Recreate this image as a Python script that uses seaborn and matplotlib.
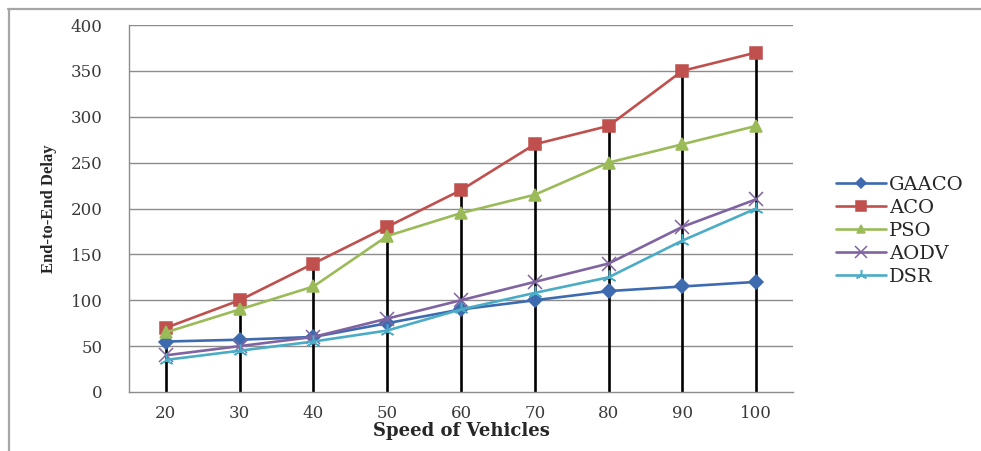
import matplotlib
matplotlib.use("Agg")
import matplotlib.pyplot as plt
from matplotlib.lines import Line2D
import numpy as np
import pandas as pd
import seaborn as sns

# Vehicle speeds on the x axis
speeds = ["20", "30", "40", "50", "60", "70", "80", "90", "100"]

# End-to-end delay for each routing protocol
gaaco = [55, 57, 60, 75, 90, 100, 110, 115, 120]
aco = [70, 100, 140, 180, 220, 270, 290, 350, 370]
pso = [65, 90, 115, 170, 195, 215, 250, 270, 290]
aodv = [40, 50, 60, 80, 100, 120, 140, 180, 210]
dsr = [35, 45, 55, 67, 90, 108, 125, 165, 200]

protocols = ["GAACO", "ACO", "PSO", "AODV", "DSR"]
series = [gaaco, aco, pso, aodv, dsr]

colors = {
    "GAACO": "#3E6BB0",
    "ACO": "#C0504D",
    "PSO": "#9BBB59",
    "AODV": "#8064A2",
    "DSR": "#4BACC6",
}
markers = {
    "GAACO": "D",
    "ACO": "s",
    "PSO": "^",
    "AODV": "x",
    "DSR": (3, 2, 0),
}
msizes = {"GAACO": 7, "ACO": 9, "PSO": 8, "AODV": 10, "DSR": 10}

rows = []
for name, vals in zip(protocols, series):
    for i, v in enumerate(vals):
        rows.append({"pos": i, "speed": speeds[i], "delay": v, "protocol": name})
df = pd.DataFrame(rows)

sns.set_style("white")
plt.rcParams["font.family"] = ["DejaVu Serif"]

fig = plt.figure(figsize=(9.81, 4.51), dpi=100)
ax = fig.add_axes([129 / 981, 1 - 392 / 451, (793 - 129) / 981, (392 - 25) / 451])

# Horizontal gridlines
for yv in range(50, 401, 50):
    ax.axhline(yv, color="#8C8C8C", lw=1.0, zorder=0)

# High-low drop lines from the axis up to the highest series value
tops = df.groupby("pos")["delay"].max()
ax.vlines(tops.index, 0, tops.values, color="black", lw=1.9, zorder=1)

for name in protocols:
    sub = df[df["protocol"] == name]
    sns.lineplot(
        data=sub, x="pos", y="delay", ax=ax,
        color=colors[name], lw=1.9, label=name,
        marker=markers[name], markersize=msizes[name],
        markeredgecolor=colors[name],
        markerfacecolor=colors[name],
        markeredgewidth=1.1,
        zorder=3,
    )

ax.set_xlim(-0.5, len(speeds) - 0.5)
ax.set_ylim(0, 400)
ax.set_xticks(range(len(speeds)))
ax.set_xticklabels(speeds)
ax.set_yticks(range(0, 401, 50))

for side in ("top", "right"):
    ax.spines[side].set_visible(False)
for side in ("left", "bottom"):
    ax.spines[side].set_color("#8C8C8C")
    ax.spines[side].set_linewidth(1.0)

ax.tick_params(axis="y", length=5, color="#8C8C8C", width=1.0, pad=14,
               labelsize=12, labelcolor="#3A3A3A")
ax.tick_params(axis="x", length=0, pad=9, labelsize=12, labelcolor="#3A3A3A")
for lab in ax.get_xticklabels() + ax.get_yticklabels():
    lab.set_fontfamily("DejaVu Serif")

ax.set_xlabel("Speed of Vehicles", fontsize=13, fontweight="bold",
              family="DejaVu Serif", labelpad=0)
ax.set_ylabel("End-to-End Delay", fontsize=12, fontweight="bold",
              family="Liberation Serif", labelpad=10)

leg = ax.get_legend()
if leg is not None:
    leg.remove()
handles, labels = ax.get_legend_handles_labels()
fig.legend(handles, labels, loc="center left",
           bbox_to_anchor=(818 / 981, 1 - 231 / 451),
           frameon=False, handlelength=2.6, handletextpad=0.15,
           labelspacing=0.25, markerscale=0.8,
           prop={"family": "DejaVu Serif", "size": 14})

# Outer chart frame (top and left edges)
fig.add_artist(Line2D([8 / 981, 1.0], [1 - 8.5 / 451, 1 - 8.5 / 451],
                      transform=fig.transFigure, color="#A6A6A6", lw=1.6))
fig.add_artist(Line2D([8.5 / 981, 8.5 / 981], [0.0, 1 - 8.5 / 451],
                      transform=fig.transFigure, color="#A6A6A6", lw=1.6))

fig.savefig("out.png", dpi=100, facecolor="white")
